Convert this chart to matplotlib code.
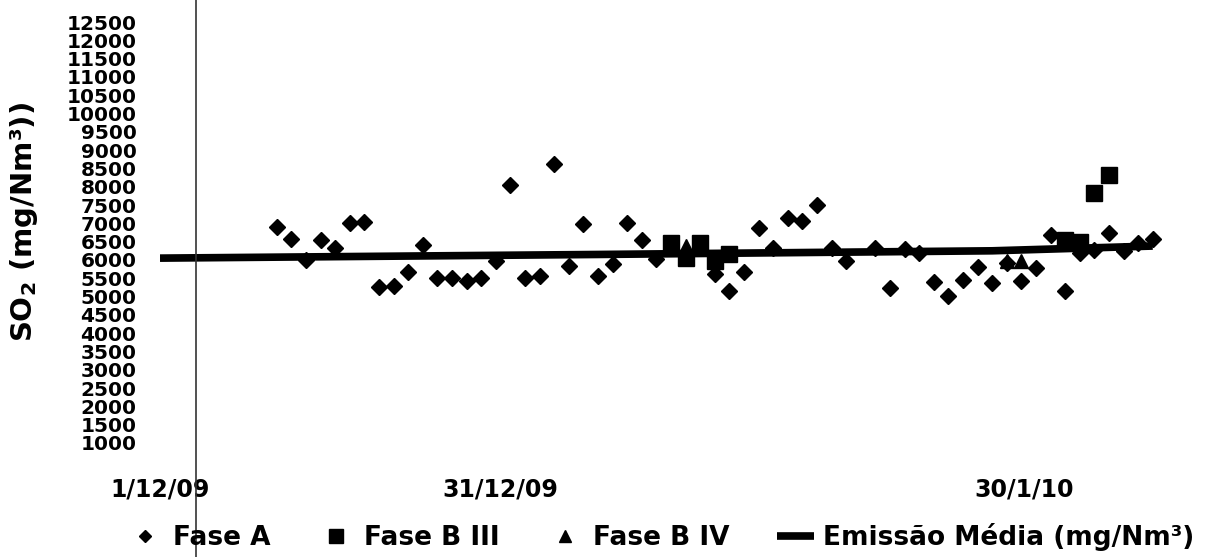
import numpy as np
import matplotlib
matplotlib.use('Agg')
import matplotlib.pyplot as plt
from matplotlib import rcParams
from matplotlib.lines import Line2D

rcParams['font.family'] = ['DejaVu Sans']
rcParams['font.weight'] = 'bold'

# dias contados a partir de 1/12/09
dias_a = [8, 9, 10, 11, 12, 13, 14, 15, 16, 17, 18, 19, 20, 21, 22, 23, 24, 25,
          26, 27, 28, 29, 30, 31, 32, 33, 34, 38, 39, 40, 41, 42, 43, 44, 45, 46,
          47, 49, 50, 51, 52, 53, 54, 55, 56, 57, 58, 59, 60, 61, 62, 63, 64, 65,
          66, 67, 68]
fase_a = [6900, 6570, 6000, 6540, 6320, 7000, 7050, 5250, 5300, 5660, 6410, 5520,
          5520, 5430, 5520, 5980, 8060, 5520, 5570, 8620, 5840, 6990, 5570, 5890,
          7020, 6540, 6020, 5620, 5160, 5660, 6870, 6340, 7150, 7060, 7500, 6340,
          5960, 6340, 5230, 6290, 6200, 5390, 5020, 5460, 5810, 5360, 5930, 5430,
          5790, 6680, 5160, 6200, 6270, 6750, 6250, 6470, 6570]

dias_b3 = [35, 36, 37, 38, 39, 62, 63, 64, 65]
fase_b3 = [6470, 6060, 6450, 5980, 6170, 6550, 6500, 7830, 8330]

dias_b4 = [36, 58, 59]
fase_b4 = [6380, 5980, 5980]

dias_media = [0, 30, 46, 57, 68]
media = [6050, 6150, 6210, 6250, 6380]

yticks = np.arange(1000, 12501, 500)
xtick_pos = [0, 23.3, 59.2]
xtick_lab = ['1/12/09', '31/12/09', '30/1/10']

fig = plt.figure(figsize=(12.12, 5.57), dpi=100)
ax = fig.add_axes([160/1212, 1-443/557, 1000/1212, 421/557])

ax.plot(dias_media, media, '-', color='black', lw=5.5, solid_capstyle='butt',
        label='Emissão Média (mg/Nm³)', zorder=2)
ax.plot(dias_a, fase_a, 'D', color='black', ms=8, ls='none', label='Fase A',
        clip_on=False, zorder=3)
ax.plot(dias_b3, fase_b3, 's', color='black', ms=12, ls='none', label='Fase B III',
        clip_on=False, zorder=3)
ax.plot(dias_b4, fase_b4, '^', color='black', ms=10, ls='none', label='Fase B IV',
        clip_on=False, zorder=3)

ax.set_xlim(0, 68.5)
ax.set_ylim(1000, 12500)
ax.set_yticks(yticks)
ax.set_yticklabels([str(v) for v in yticks], fontsize=14.5, fontweight='bold')
ax.set_xticks(xtick_pos)
ax.set_xticklabels(xtick_lab, fontsize=17, fontweight='bold')
ax.tick_params(axis='y', length=0, pad=17)
ax.tick_params(axis='x', length=0, pad=25)
for s in ax.spines.values():
    s.set_visible(False)

fig.text(24/1212, 1-222/557, 'SO$_\\mathbf{2}$ (mg/Nm³))', rotation=90,
         ha='center', va='center', fontsize=21, fontweight='bold')

# linha vertical da digitalização
fig.add_artist(Line2D([196/1212, 196/1212], [0, 1], color='#333333', lw=1.2))

h, l = ax.get_legend_handles_labels()
ordem = [1, 2, 3, 0]
fig.legend([h[i] for i in ordem], [l[i] for i in ordem], loc='center',
           bbox_to_anchor=(0.545, 0.036), ncol=4, frameon=False,
           prop={'size': 19, 'weight': 'bold'}, markerscale=0.8,
           handlelength=1.4, handletextpad=0.35, columnspacing=1.8)

plt.savefig('out.png', dpi=100)
